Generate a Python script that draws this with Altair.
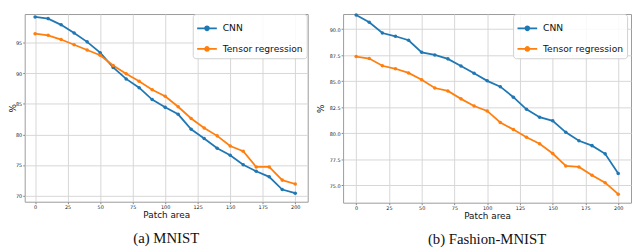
import altair as alt
import pandas as pd

patch_area = [0, 10, 20, 30, 40, 50, 60, 70, 80, 90, 100, 110, 120, 130, 140, 150, 160, 170, 180, 190, 200]
mnist_cnn = [99.25, 98.98, 97.96, 96.62, 95.17, 93.40, 90.98, 89.10, 87.66, 85.72, 84.44, 83.30, 80.84, 79.34, 77.73, 76.60, 75.04, 73.97, 73.06, 70.97, 70.38]
mnist_tensor = [96.51, 96.24, 95.55, 94.69, 93.83, 92.97, 91.30, 89.96, 88.73, 87.33, 86.26, 84.54, 82.61, 81.05, 79.77, 78.10, 77.24, 74.67, 74.67, 72.52, 71.88]
fashion_cnn = [91.35, 90.66, 89.62, 89.31, 88.93, 87.77, 87.52, 87.14, 86.45, 85.75, 85.03, 84.47, 83.46, 82.30, 81.54, 81.19, 80.09, 79.28, 78.81, 78.02, 76.13]
fashion_tensor = [87.36, 87.17, 86.48, 86.19, 85.79, 85.13, 84.34, 84.06, 83.30, 82.61, 82.14, 81.04, 80.35, 79.62, 78.99, 78.05, 76.86, 76.76, 75.97, 75.25, 74.15]

series_names = ["CNN", "Tensor regression"]
series_colors = ["#1f77b4", "#ff7f0e"]
x_ticks = [0, 25, 50, 75, 100, 125, 150, 175, 200]
mnist_y_ticks = [70, 75, 80, 85, 90, 95, 100]
fashion_y_ticks = [75.0, 77.5, 80.0, 82.5, 85.0, 87.5, 90.0]
captions = ["(a) MNIST", "(b) Fashion-MNIST"]


def make_df(cnn, tensor):
    rows = []
    for i, p in enumerate(patch_area):
        rows.append({"patch": p, "acc": cnn[i], "model": series_names[0]})
    for i, p in enumerate(patch_area):
        rows.append({"patch": p, "acc": tensor[i], "model": series_names[1]})
    return pd.DataFrame(rows)


legend_path = "M-1,0L1,0M-0.2,0A0.2,0.2 0 1,1 0.2,0A0.2,0.2 0 1,1 -0.2,0Z"


def panel(df, xdom, ydom, yticks, yfmt, width, height, caption, ytitlepad, legx):
    return alt.Chart(df).mark_line(
        strokeWidth=1.8,
        point=alt.OverlayMarkDef(filled=True, size=13, opacity=1),
    ).encode(
        x=alt.X("patch:Q",
                scale=alt.Scale(domain=xdom, nice=False, zero=False),
                axis=alt.Axis(values=x_ticks, title="Patch area", format="d")),
        y=alt.Y("acc:Q",
                scale=alt.Scale(domain=ydom, nice=False, zero=False),
                axis=alt.Axis(values=yticks, format=yfmt, title="%", titlePadding=ytitlepad)),
        color=alt.Color("model:N",
                        scale=alt.Scale(domain=series_names, range=series_colors),
                        legend=alt.Legend(title=None, orient="none", legendX=legx, legendY=0,
                                          symbolType=legend_path, symbolSize=400,
                                          symbolStrokeWidth=1.8, labelOffset=5,
                                          rowPadding=4, padding=3.5,
                                          fillColor="rgba(255,255,255,0.85)",
                                          strokeColor="#d0d0d0", cornerRadius=3,
                                          labelFontSize=9.3, labelFont="DejaVu Sans",
                                          labelColor="#111")),
        order=alt.Order("patch:Q"),
    ).properties(
        width=width, height=height,
        title=alt.TitleParams(caption, orient="bottom", anchor="middle",
                              font="Liberation Serif", fontSize=15, fontWeight="normal",
                              color="#111", offset=12),
    )


left = panel(make_df(mnist_cnn, mnist_tensor), [-8.0, 209.6], [68.98, 99.73],
             mnist_y_ticks, "d", 288, 191, captions[0], -2, 171)
right = panel(make_df(fashion_cnn, fashion_tensor), [-9.97, 209.75], [73.33, 91.446],
              fashion_y_ticks, ".1f", 293, 192, captions[1], 4, 173)

chart = alt.hconcat(left, right, spacing=7).resolve_legend(color="independent").properties(
    padding={"left": 0, "top": 0, "right": 0, "bottom": 0}
).configure_view(
    stroke="#9a9a9a", strokeWidth=1
).configure_axis(
    domain=False, grid=True, gridColor="#d6d6d6", gridWidth=1,
    tickSize=2, tickColor="#888", labelFontSize=5, labelFont="DejaVu Sans",
    labelColor="#222", labelPadding=1, titleFont="DejaVu Sans", titleFontSize=9,
    titleFontWeight="normal", titleColor="#111",
).configure_axisX(titlePadding=1)

chart.save("out.html", embed_options={"renderer": "svg", "actions": False})
